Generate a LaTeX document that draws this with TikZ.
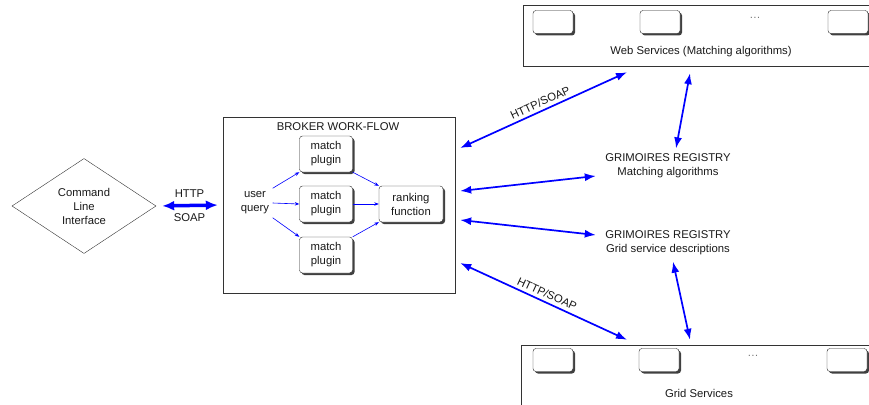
\documentclass[tikz,border=0pt]{standalone}
\usepackage{fontspec}
\setmainfont{Liberation Sans}
\usetikzlibrary{shapes.geometric,arrows.meta,shadows}

\begin{document}
\begin{tikzpicture}[
        x = 1pt, y = -1pt,
        every node/.style = {font = \fontsize{11.3}{14}\selectfont, text = black!90, align = center},
        plugin/.style = {
                draw = black!85, fill = white, rounded corners = 3pt,
                minimum width = 53pt, minimum height = 36pt, inner sep = 1pt,
                copy shadow = {fill = black!75, draw = none, shadow xshift = 2pt, shadow yshift = -2pt}
            },
        svcbox/.style = {plugin, minimum width = 40pt, minimum height = 23pt},
        frame/.style = {draw = black!80, inner sep = 0pt},
        soap/.style = {blue, line width = 1.7pt, {Latex[length=11pt,width=8pt]}-{Latex[length=11pt,width=8pt]}},
        flow/.style = {blue, line width = 0.6pt, -{Stealth[length=4.5pt,width=3.5pt]}}
    ]

    \useasboundingbox (0,0) rectangle (869,404);

    % client side
    \node[diamond, draw = black!80, aspect = 1.5, inner sep = 0pt,
        minimum width = 144pt, minimum height = 95pt] (cli) at (84,206) {Command\\Line\\Interface};

    % broker
    \node[frame, minimum width = 232pt, minimum height = 176pt] (broker) at (339,205) {};
    \node (title) at (338,127) {BROKER WORK-FLOW};
    \node (query) at (255,203) {user\\query};
    \node[plugin] (match1) at (326,154) {match\\plugin};
    \node[plugin] (match2) at (326,204) {match\\plugin};
    \node[plugin] (match3) at (326,255) {match\\plugin};
    \node[plugin, minimum width = 64pt] (ranking) at (411,204) {ranking\\function};

    \draw[flow] (query.north east) -- (match1.south west);
    \draw[flow] (query.east) -- (match2.west);
    \draw[flow] (query.south east) -- (match3.north west);
    \draw[flow] (match1.south east) -- (ranking.north west);
    \draw[flow] (match2.east) -- (ranking.west);
    \draw[flow] (match3.north east) -- (ranking.south west);

    \draw[blue, line width = 3.5pt, {Latex[length=12pt,width=10pt]}-{Latex[length=12pt,width=10pt]},
        shorten < = 6pt, shorten > = 5pt]
        (cli.east) -- node[above = 3pt] {HTTP} node[below = 3pt] {SOAP} (broker.west);

    % web services
    \node[frame, minimum width = 380pt, minimum height = 61pt] (ws) at (713,35.5) {};
    \node[svcbox] (ws1) at (553,22) {};
    \node[svcbox] (ws2) at (660,22) {};
    \node[svcbox] (ws3) at (848,22) {};
    \node[text = black!55] (wsdots) at (755,18) {\dots};
    \node (wslabel) at (701,52) {Web Services (Matching algorithms)};

    % registries
    \node (regmatch) at (668,166) {GRIMOIRES REGISTRY\\Matching algorithms};
    \node (reggrid) at (668,243) {GRIMOIRES REGISTRY\\Grid service descriptions};

    % grid services
    \node[frame, minimum width = 380pt, minimum height = 90pt] (gs) at (711,390) {};
    \node[svcbox] (gs1) at (553,360) {};
    \node[svcbox] (gs2) at (659,360) {};
    \node[svcbox] (gs3) at (847,360) {};
    \node[text = black!55] (gsdots) at (753,356) {\dots};
    \node (gslabel) at (699,393) {Grid Services};

    % connections
    \draw[soap] ([xshift=5pt,yshift=57pt]broker.east) -- node[sloped, above = 0pt] {HTTP/SOAP}
        ([xshift=-86pt,yshift=-6pt]ws.south);
    \draw[soap] ([xshift=5pt,yshift=14pt]broker.east) -- ([xshift=-6pt,yshift=-10pt]regmatch.west);
    \draw[soap] ([xshift=5pt,yshift=-15pt]broker.east) -- ([xshift=-6pt,yshift=8pt]reggrid.west);
    \draw[soap] ([xshift=5pt,yshift=-58pt]broker.east) -- node[sloped, above = 0pt] {HTTP/SOAP}
        ([xshift=-84pt,yshift=5pt]gs.north);
    \draw[soap] ([xshift=-23pt,yshift=-7pt]ws.south) -- ([xshift=8pt,yshift=2pt]regmatch.north);
    \draw[soap] ([xshift=5pt,yshift=-3pt]reggrid.south) -- ([xshift=-21pt,yshift=5pt]gs.north);

\end{tikzpicture}
\end{document}
